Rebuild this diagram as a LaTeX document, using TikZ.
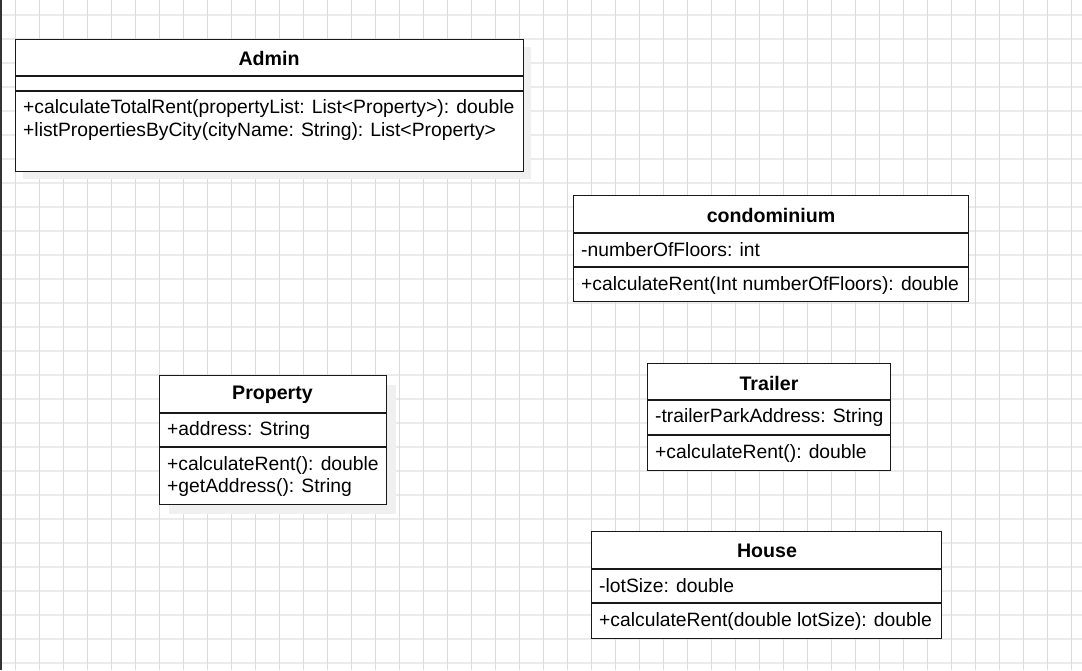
\documentclass[tikz,border=0pt]{standalone}
\usepackage{fontspec}
\setmainfont{Liberation Sans}
\begin{document}
\begin{tikzpicture}[x=1pt,y=-1pt,
  classbox/.style={draw=black!90, line width=1.3pt, fill=white, inner sep=0pt, anchor=north west},
  shadowbox/.style={fill=black!6, draw=none, inner sep=0pt, anchor=north west},
  divider/.style={draw=black!90, line width=1.3pt},
  ctitle/.style={font=\fontsize{19.6}{23}\selectfont\bfseries, anchor=center, inner sep=0pt},
  member/.style={font=\fontsize{19.3}{23}\selectfont, anchor=west, inner sep=0pt},
  vgrid/.style={draw=black!14, line width=1pt},
  hgrid/.style={draw=black!8, line width=1.2pt}]
\useasboundingbox (0,0) rectangle (1082,670);
\fill[white] (0,0) rectangle (1082,670);
% grid
\foreach \k in {0,...,27} {\draw[hgrid] (0,15+24*\k) -- (1082,15+24*\k);}
\foreach \k in {0,...,44} {\draw[vgrid] (15+24*\k,0) -- (15+24*\k,670);}
\fill[black!80] (0,0) rectangle (2,670);

% shadows
\node[shadowbox, minimum width=508pt, minimum height=132pt] (adminsh) at (23,47) {};
\node[shadowbox, minimum width=227pt, minimum height=129pt] (propsh) at (169,385) {};

% Admin
\node[classbox, minimum width=508pt, minimum height=132pt] (admin) at (15,39) {};
\coordinate (a1l) at (15,76); \coordinate (a1r) at (523,76);
\coordinate (a2l) at (15,91); \coordinate (a2r) at (523,91);
\draw[divider] (a1l) -- (a1r);
\draw[divider] (a2l) -- (a2r);
\node[ctitle] (admint) at (269,58.5) {Admin};
\node[member] (adminm1) at (23,108.5) {+calculateTotalRent(propertyList: List<Property>): double};
\node[member] (adminm2) at (23,131.5) {+listPropertiesByCity(cityName: String): List<Property>};

% condominium
\node[classbox, minimum width=395pt, minimum height=106pt] (condo) at (573,195) {};
\coordinate (c1l) at (573,233); \coordinate (c1r) at (968,233);
\coordinate (c2l) at (573,267); \coordinate (c2r) at (968,267);
\draw[divider] (c1l) -- (c1r);
\draw[divider] (c2l) -- (c2r);
\node[ctitle] (condot) at (771,215) {condominium};
\node[member] (condoa) at (581,249.5) {-numberOfFloors: int};
\node[member] (condom) at (581,285) {+calculateRent(Int numberOfFloors): double};

% Property
\node[classbox, minimum width=227pt, minimum height=129pt] (prop) at (159,375) {};
\coordinate (p1l) at (159,413); \coordinate (p1r) at (386,413);
\coordinate (p2l) at (159,447); \coordinate (p2r) at (386,447);
\draw[divider] (p1l) -- (p1r);
\draw[divider] (p2l) -- (p2r);
\node[ctitle] (propt) at (272.5,395) {Property};
\node[member] (propa) at (167,430.5) {+address: String};
\node[member] (propm1) at (167,465.5) {+calculateRent(): double};
\node[member] (propm2) at (167,487.5) {+getAddress(): String};

% Trailer
\node[classbox, minimum width=243pt, minimum height=107pt] (trailer) at (647,363) {};
\coordinate (t1l) at (647,400); \coordinate (t1r) at (890,400);
\coordinate (t2l) at (647,435); \coordinate (t2r) at (890,435);
\draw[divider] (t1l) -- (t1r);
\draw[divider] (t2l) -- (t2r);
\node[ctitle] (trailert) at (769,383) {Trailer};
\node[member] (trailera) at (655,417.5) {-trailerParkAddress: String};
\node[member] (trailerm) at (655,453) {+calculateRent(): double};

% House
\node[classbox, minimum width=350pt, minimum height=107pt] (house) at (591,531) {};
\coordinate (h1l) at (591,569); \coordinate (h1r) at (941,569);
\coordinate (h2l) at (591,603); \coordinate (h2r) at (941,603);
\draw[divider] (h1l) -- (h1r);
\draw[divider] (h2l) -- (h2r);
\node[ctitle] (houset) at (767,551) {House};
\node[member] (housea) at (599,585.5) {-lotSize: double};
\node[member] (housem) at (599,621) {+calculateRent(double lotSize): double};
\end{tikzpicture}
\end{document}
